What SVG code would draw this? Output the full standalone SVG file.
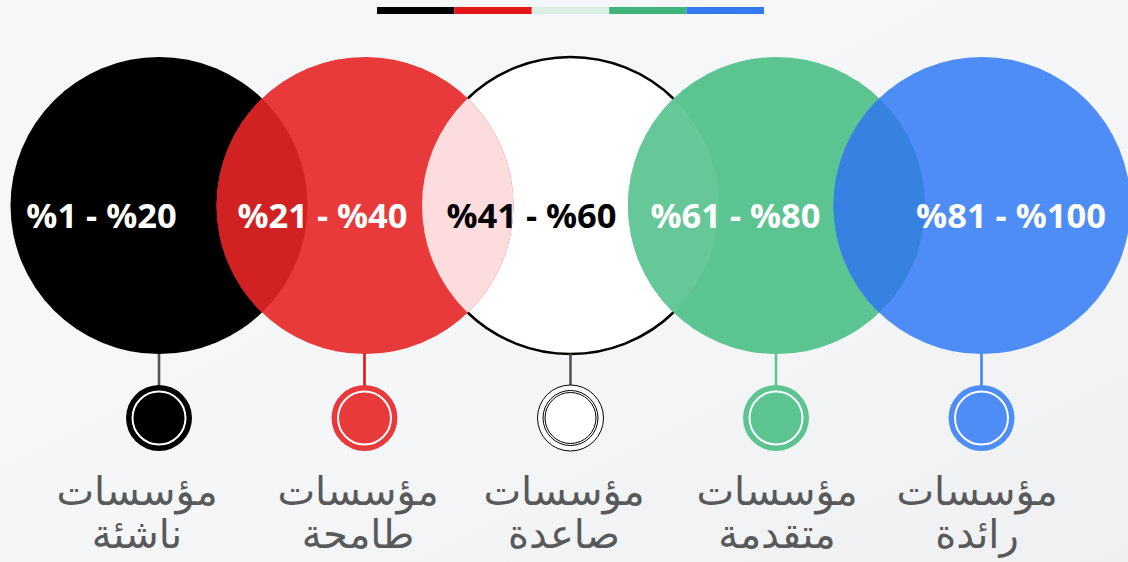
<svg xmlns="http://www.w3.org/2000/svg" width="1128" height="562" viewBox="0 0 1128 562">
  <defs>
    <linearGradient id="bg" x1="0" y1="0" x2="1" y2="1">
      <stop offset="0" stop-color="#f6f7f8"/>
      <stop offset="0.55" stop-color="#f5f6f7"/>
      <stop offset="1" stop-color="#eff0f2"/>
    </linearGradient>
    <clipPath id="clipBlack"><circle cx="159" cy="205.5" r="148.5"/></clipPath>
    <clipPath id="clipRed"><circle cx="365" cy="205.5" r="148.5"/></clipPath>
    <clipPath id="clipWhite"><circle cx="570.5" cy="205.5" r="148.5"/></clipPath>
    <clipPath id="clipGreen"><circle cx="776.5" cy="205.5" r="148.5"/></clipPath>
    <style>
      .pct { font-family: "Open Sans", "DejaVu Sans", sans-serif; font-weight: 700; font-size: 34.5px; text-anchor: middle; }
      .lbl { font-family: "DejaVu Sans", "Noto Sans", sans-serif; font-size: 40px; fill: #58595b; text-anchor: middle; }
      .stem { stroke-width: 2.6; }
      .ring { fill: none; stroke: #ffffff; stroke-width: 2; }
    </style>
  </defs>

  <rect width="1128" height="562" fill="url(#bg)"/>

  <!-- colour key bar -->
  <g id="key-bar">
    <rect x="377" y="7" width="77.4" height="7" fill="#000000"/>
    <rect x="454.4" y="7" width="77.4" height="7" fill="#e31519"/>
    <rect x="531.8" y="7" width="77.4" height="7" fill="#d9efe3"/>
    <rect x="609.2" y="7" width="77.4" height="7" fill="#3db57a"/>
    <rect x="686.6" y="7" width="77.4" height="7" fill="#3378ee"/>
  </g>

  <!-- large overlapping circles -->
  <g id="circles">
    <circle id="c-black" cx="159" cy="205.5" r="148.5" fill="#000000"/>
    <circle id="c-white" cx="570.5" cy="205.5" r="148.5" fill="#ffffff" stroke="#000000" stroke-width="2.5"/>
    <circle id="c-red" cx="365" cy="205.5" r="148.5" fill="#e8393b"/>
    <circle cx="365" cy="205.5" r="148.5" fill="#d12123" clip-path="url(#clipBlack)"/>
    <circle cx="570.5" cy="205.5" r="148.5" fill="#fddcdd" clip-path="url(#clipRed)"/>
    <circle id="c-green" cx="776.5" cy="205.5" r="148.5" fill="#5bc490"/>
    <circle cx="570.5" cy="205.5" r="148.5" fill="#66c898" clip-path="url(#clipGreen)"/>
    <circle id="c-blue" cx="982" cy="205.5" r="148.5" fill="#4d8df5"/>
    <circle cx="982" cy="205.5" r="148.5" fill="#3781e0" clip-path="url(#clipGreen)"/>
  </g>

  <!-- percentage ranges -->
  <g id="ranges">
    <text class="pct" x="101.5" y="228" fill="#ffffff">%1 - %20</text>
    <text class="pct" x="322.5" y="228" fill="#ffffff">%21 - %40</text>
    <text class="pct" x="531.5" y="228" fill="#000000">%41 - %60</text>
    <text class="pct" x="735.5" y="228" fill="#ffffff">%61 - %80</text>
    <text class="pct" x="1011" y="228" fill="#ffffff">%81 - %100</text>
  </g>

  <!-- connectors from circles to markers -->
  <g id="connectors">
    <line class="stem" x1="159" y1="354" x2="159" y2="386" stroke="#555555"/>
    <line class="stem" x1="364.5" y1="354" x2="364.5" y2="386" stroke="#e31519"/>
    <line class="stem" x1="570.5" y1="354" x2="570.5" y2="386" stroke="#555555"/>
    <line class="stem" x1="776" y1="354" x2="776" y2="386" stroke="#5bc490"/>
    <line class="stem" x1="981.5" y1="354" x2="981.5" y2="386" stroke="#3f85f0"/>
  </g>

  <!-- markers and labels -->
  <g id="node-emerging">
    <circle cx="159" cy="418" r="33" fill="#000000"/>
    <circle class="ring" cx="159" cy="418" r="26.5"/>
    <text class="lbl" x="137" y="505">مؤسسات</text>
    <text class="lbl" x="137" y="548">ناشئة</text>
  </g>
  <g id="node-ambitious">
    <circle cx="364.5" cy="418" r="33" fill="#e8393b"/>
    <circle class="ring" cx="364.5" cy="418" r="26.5"/>
    <text class="lbl" x="358" y="505">مؤسسات</text>
    <text class="lbl" x="358" y="548">طامحة</text>
  </g>
  <g id="node-rising">
    <circle cx="570.5" cy="418" r="33" fill="#ffffff" stroke="#000000" stroke-width="1"/>
    <circle cx="570.5" cy="418" r="27.5" fill="none" stroke="#000000" stroke-width="1"/>
    <circle cx="570.5" cy="418" r="25.5" fill="none" stroke="#000000" stroke-width="1"/>
    <text class="lbl" x="564" y="505">مؤسسات</text>
    <text class="lbl" x="564" y="548">صاعدة</text>
  </g>
  <g id="node-advanced">
    <circle cx="776" cy="418" r="33" fill="#5bc490"/>
    <circle class="ring" cx="776" cy="418" r="26.5"/>
    <text class="lbl" x="777" y="505">مؤسسات</text>
    <text class="lbl" x="777" y="548">متقدمة</text>
  </g>
  <g id="node-leading">
    <circle cx="981.5" cy="418" r="33" fill="#4d8df5"/>
    <circle class="ring" cx="981.5" cy="418" r="26.5"/>
    <text class="lbl" x="977" y="505">مؤسسات</text>
    <text class="lbl" x="977" y="548">رائدة</text>
  </g>
</svg>
